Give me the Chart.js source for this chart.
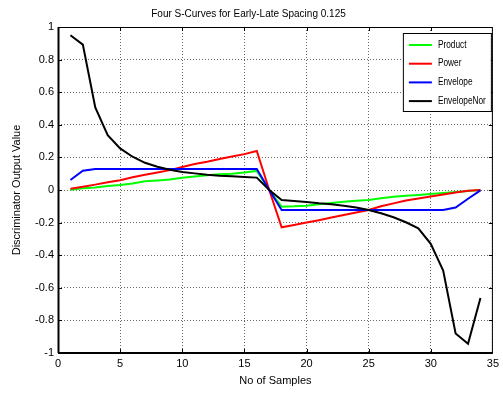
<!DOCTYPE html>
<html>
<head>
<meta charset="utf-8">
<script src="https://cdn.jsdelivr.net/npm/chart.js@4/dist/chart.umd.min.js"></script>
<style>
html, body { margin: 0; padding: 0; background: #fff; }
#wrap { width: 503px; height: 393px; }
</style>
</head>
<body>
<div id="wrap"><canvas id="c" width="503" height="393"></canvas></div>
<script>
var samples = [1,2,3,4,5,6,7,8,9,10,11,12,13,14,15,16,17,18,19,20,21,22,23,24,25,26,27,28,29,30,31,32,33,34];
var product = [0.002,0.010,0.016,0.024,0.030,0.040,0.053,0.059,0.065,0.075,0.083,0.090,0.096,0.100,0.108,0.117,0,
	-0.102,-0.100,-0.096,-0.088,-0.080,-0.072,-0.066,-0.061,-0.051,-0.041,-0.035,-0.030,-0.024,-0.018,-0.012,-0.006,0];
var power = [0.008,0.020,0.033,0.047,0.060,0.078,0.094,0.108,0.122,0.141,0.160,0.173,0.190,0.206,0.220,0.239,0,
	-0.229,-0.215,-0.200,-0.185,-0.169,-0.154,-0.138,-0.123,-0.100,-0.082,-0.064,-0.052,-0.040,-0.028,-0.016,-0.005,0];
var envelope = [0.061,0.118,0.129,0.129,0.129,0.129,0.129,0.129,0.129,0.129,0.129,0.129,0.129,0.129,0.129,0.129,0,
	-0.123,-0.123,-0.123,-0.123,-0.123,-0.123,-0.123,-0.123,-0.123,-0.123,-0.123,-0.123,-0.123,-0.123,-0.108,-0.054,-0.002];
var envelopeNor = [0.949,0.892,0.506,0.337,0.255,0.204,0.167,0.143,0.124,0.110,0.102,0.094,0.088,0.084,0.080,0.076,0,
	-0.061,-0.068,-0.074,-0.082,-0.088,-0.096,-0.108,-0.123,-0.143,-0.167,-0.198,-0.235,-0.330,-0.494,-0.880,-0.943,-0.663];
var seriesNames = ['Product','Power','Envelope','EnvelopeNor'];
var seriesColors = ['#00ff00','#ff0000','#0000ff','#000000'];
var xTicks = [0,5,10,15,20,25,30,35];
var yTicks = [-1,-0.8,-0.6,-0.4,-0.2,0,0.2,0.4,0.6,0.8,1];

var sans = "'Liberation Sans', Arial, sans-serif";

function toPoints(ys) {
	var pts = [];
	for (var i = 0; i < samples.length; i++) {
		pts.push({x: samples[i], y: ys[i]});
	}
	return pts;
}

var allSeries = [product, power, envelope, envelopeNor];
var datasets = [];
for (var i = 0; i < allSeries.length; i++) {
	datasets.push({
		label: seriesNames[i],
		data: toPoints(allSeries[i]),
		borderColor: seriesColors[i],
		backgroundColor: seriesColors[i],
		borderWidth: 2,
		pointRadius: 0,
		tension: 0,
		order: allSeries.length - i
	});
}

// box, inward ticks and legend like the matlab figure
var matlabBox = {
	id: 'matlabBox',
	afterDatasetsDraw: function(chart) {
		var ctx = chart.ctx;
		var a = chart.chartArea;
		var xs = chart.scales.x, ys = chart.scales.y;
		ctx.save();
		ctx.strokeStyle = '#000';
		ctx.lineWidth = 1;
		ctx.beginPath();
		for (var i = 1; i < xTicks.length - 1; i++) {
			var px = Math.round(xs.getPixelForValue(xTicks[i])) + 0.5;
			ctx.moveTo(px, a.bottom); ctx.lineTo(px, a.bottom - 4);
			ctx.moveTo(px, a.top); ctx.lineTo(px, a.top + 4);
		}
		for (var j = 1; j < yTicks.length - 1; j++) {
			var py = Math.round(ys.getPixelForValue(yTicks[j])) + 0.5;
			ctx.moveTo(a.left, py); ctx.lineTo(a.left + 4, py);
			ctx.moveTo(a.right, py); ctx.lineTo(a.right - 4, py);
		}
		ctx.stroke();
		ctx.strokeRect(a.left + 0.5, a.top + 0.5, a.right - a.left - 1, a.bottom - a.top - 1);
		ctx.lineWidth = 2;
		ctx.beginPath();
		ctx.moveTo(a.left, a.bottom);
		ctx.lineTo(a.right, a.bottom);
		ctx.moveTo(a.left + 0.5, a.top);
		ctx.lineTo(a.left + 0.5, a.bottom);
		ctx.stroke();

		// legend
		var bx = a.right - 90, by = a.top + 6, bw = 88, bh = 78;
		ctx.fillStyle = '#fff';
		ctx.fillRect(bx, by, bw, bh);
		ctx.lineWidth = 1;
		ctx.strokeStyle = '#000';
		ctx.strokeRect(bx + 0.5, by + 0.5, bw, bh);
		ctx.font = '10px ' + sans;
		ctx.textBaseline = 'middle';
		ctx.textAlign = 'left';
		for (var k = 0; k < chart.data.datasets.length; k++) {
			var ds = chart.data.datasets[k];
			var ry = by + 12 + k * 18.7;
			ctx.strokeStyle = ds.borderColor;
			ctx.lineWidth = 2;
			ctx.beginPath();
			ctx.moveTo(bx + 6, ry);
			ctx.lineTo(bx + 29, ry);
			ctx.stroke();
			// narrow the text a bit, the original uses a condensed face
			ctx.save();
			ctx.translate(bx + 35, ry);
			ctx.scale(0.83, 1);
			ctx.fillStyle = '#000';
			ctx.fillText(ds.label, 0, 0);
			ctx.restore();
		}
		ctx.restore();
	}
};

new Chart(document.getElementById('c'), {
	type: 'line',
	data: {datasets: datasets},
	options: {
		responsive: false,
		animation: false,
		layout: {padding: {left: 0, right: 6, top: 0, bottom: 0}},
		plugins: {
			legend: {display: false},
			tooltip: {enabled: false},
			title: {
				display: true,
				text: 'Four S-Curves for Early-Late Spacing 0.125',
				color: '#000',
				font: {family: sans, size: 10, weight: 'normal'},
				padding: {top: 8, bottom: 7}
			}
		},
		scales: {
			x: {
				type: 'linear',
				min: 0, max: 35,
				afterBuildTicks: function(scale) {
					scale.ticks = xTicks.map(function(v) { return {value: v}; });
				},
				afterFit: function(scale) { scale.height = 40; },
				grid: {color: 'rgba(0,0,0,0.6)', lineWidth: 1, drawTicks: false},
				border: {display: false, dash: [1, 2]},
				ticks: {color: '#000', padding: 4, maxRotation: 0, font: {family: sans, size: 11}},
				title: {display: true, text: 'No of Samples', color: '#000', font: {family: sans, size: 11}, padding: {top: 0, bottom: 5}}
			},
			y: {
				type: 'linear',
				min: -1, max: 1,
				afterBuildTicks: function(scale) {
					scale.ticks = yTicks.map(function(v) { return {value: v}; });
				},
				afterFit: function(scale) { scale.width = 58; },
				grid: {color: 'rgba(0,0,0,0.6)', lineWidth: 1, drawTicks: false},
				border: {display: false, dash: [1, 2]},
				ticks: {
					color: '#000', padding: 4,
					font: {family: sans, size: 11},
					callback: function(v) { return String(+v.toFixed(1)); }
				},
				title: {display: true, text: 'Discriminator Output Value', color: '#000', font: {family: sans, size: 11}, padding: {top: 10, bottom: 0}}
			}
		}
	},
	plugins: [matlabBox]
});
</script>
</body>
</html>
